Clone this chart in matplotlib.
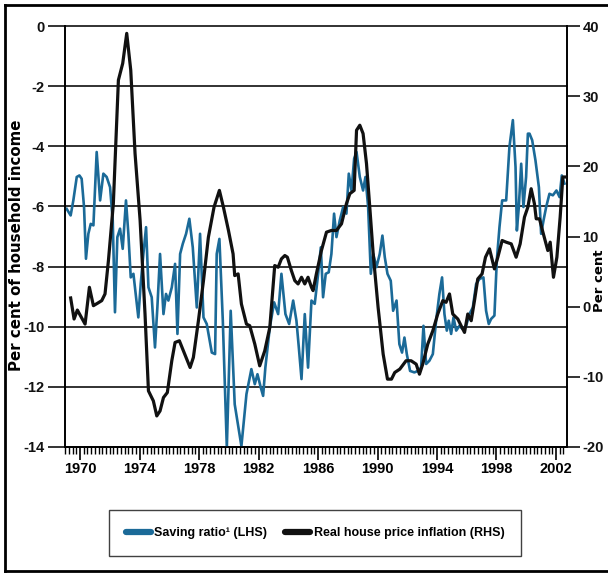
import matplotlib
matplotlib.use("Agg")
import matplotlib.pyplot as plt
from matplotlib.ticker import MultipleLocator, FixedLocator
from matplotlib.lines import Line2D

plt.rcParams['font.family'] = ['Liberation Sans Narrow', 'Liberation Sans', 'DejaVu Sans']

# Saving ratio (LHS, per cent of household income)
saving_years = [1969.10, 1969.37, 1969.55, 1969.78, 1969.96, 1970.11, 1970.27, 1970.40, 1970.56, 1970.72,
                1970.90, 1971.12, 1971.35, 1971.57, 1971.79, 1972.02, 1972.20, 1972.35, 1972.51, 1972.69,
                1972.87, 1973.09, 1973.25, 1973.41, 1973.59, 1973.77, 1973.92, 1974.08, 1974.26, 1974.44,
                1974.60, 1974.82, 1975.04, 1975.20, 1975.38, 1975.61, 1975.78, 1975.94, 1976.17, 1976.39,
                1976.55, 1976.73, 1976.91, 1977.13, 1977.35, 1977.58, 1977.85, 1978.07, 1978.30, 1978.52,
                1978.86, 1979.08, 1979.19, 1979.37, 1979.60, 1979.87, 1980.13, 1980.40, 1980.85, 1981.19,
                1981.52, 1981.75, 1981.93, 1982.15, 1982.31, 1982.46, 1982.76, 1983.05, 1983.32, 1983.54,
                1983.81, 1984.06, 1984.33, 1984.55, 1984.71, 1984.89, 1985.11, 1985.33, 1985.56, 1985.78,
                1986.01, 1986.19, 1986.34, 1986.52, 1986.72, 1986.90, 1987.08, 1987.24, 1987.46, 1987.69,
                1987.91, 1988.07, 1988.25, 1988.43, 1988.59, 1988.81, 1989.03, 1989.19, 1989.37, 1989.55,
                1989.71, 1989.93, 1990.15, 1990.33, 1990.49, 1990.67, 1990.89, 1991.05, 1991.28, 1991.47,
                1991.65, 1991.81, 1991.97, 1992.19, 1992.48, 1992.71, 1992.93, 1993.09, 1993.27, 1993.49,
                1993.72, 1993.94, 1994.16, 1994.34, 1994.50, 1994.66, 1994.79, 1994.95, 1995.11, 1995.29,
                1995.51, 1995.73, 1995.96, 1996.18, 1996.41, 1996.63, 1996.86, 1997.12, 1997.30, 1997.48,
                1997.64, 1997.86, 1998.02, 1998.20, 1998.38, 1998.65, 1998.87, 1999.10, 1999.28, 1999.37,
                1999.50, 1999.66, 1999.81, 1999.99, 2000.11, 2000.22, 2000.40, 2000.62, 2000.85, 2001.00,
                2001.16, 2001.34, 2001.56, 2001.79, 2002.03, 2002.24, 2002.39, 2002.57]
saving_ratio = [-6.08, -6.30, -5.80, -5.02, -4.97, -5.08, -6.02, -7.74, -6.91, -6.58,
                -6.63, -4.19, -5.80, -4.91, -5.02, -5.36, -6.47, -9.52, -7.02, -6.74,
                -7.41, -5.80, -6.91, -8.36, -8.24, -9.02, -9.69, -8.58, -7.58, -6.69,
                -8.69, -9.02, -10.69, -9.36, -7.58, -9.58, -8.91, -9.13, -8.69, -7.91,
                -10.24, -7.58, -7.24, -6.91, -6.41, -7.36, -9.36, -6.91, -9.69, -9.91,
                -10.86, -10.91, -7.58, -7.08, -9.80, -14.02, -9.47, -12.58, -13.97, -12.24,
                -11.41, -11.91, -11.58, -12.02, -12.30, -11.36, -10.02, -9.19, -9.58, -8.24,
                -9.58, -9.91, -9.13, -9.80, -10.69, -11.74, -9.58, -11.36, -9.13, -9.24,
                -8.24, -7.36, -9.02, -8.24, -8.19, -7.58, -6.24, -7.02, -6.47, -6.02,
                -6.24, -4.91, -5.47, -4.41, -4.19, -5.02, -5.47, -5.02, -6.02, -8.24,
                -7.58, -8.02, -7.58, -6.97, -7.69, -8.24, -8.47, -9.47, -9.13, -10.58,
                -10.86, -10.36, -10.91, -11.47, -11.52, -11.47, -11.36, -9.97, -11.24, -11.13,
                -10.91, -9.80, -8.91, -8.36, -9.58, -10.13, -9.80, -10.24, -9.69, -10.13,
                -9.97, -10.08, -9.97, -9.58, -9.36, -8.58, -8.41, -8.36, -9.47, -9.91,
                -9.74, -9.63, -7.80, -6.69, -5.80, -5.80, -4.02, -3.13, -4.69, -6.80,
                -6.02, -4.58, -6.02, -5.02, -3.58, -3.58, -3.80, -4.47, -5.36, -6.91,
                -6.47, -6.02, -5.58, -5.63, -5.47, -5.69, -4.97, -5.24]

# Real house price inflation (RHS, per cent)
house_years = [1969.37, 1969.60, 1969.82, 1970.34, 1970.63, 1970.90, 1971.17, 1971.46, 1971.68, 1971.91,
               1972.24, 1972.58, 1972.87, 1973.14, 1973.41, 1973.70, 1974.04, 1974.37, 1974.60, 1974.93,
               1975.16, 1975.38, 1975.61, 1975.87, 1976.17, 1976.39, 1976.68, 1976.95, 1977.40, 1977.62,
               1977.96, 1978.30, 1978.63, 1979.01, 1979.37, 1979.64, 1979.98, 1980.29, 1980.40, 1980.63,
               1980.85, 1981.19, 1981.41, 1981.75, 1982.08, 1982.42, 1982.76, 1983.09, 1983.32, 1983.54,
               1983.77, 1983.94, 1984.21, 1984.44, 1984.66, 1984.89, 1985.11, 1985.33, 1985.56, 1985.67,
               1985.89, 1986.23, 1986.57, 1986.90, 1987.24, 1987.58, 1987.91, 1988.14, 1988.43, 1988.59,
               1988.81, 1989.03, 1989.26, 1989.48, 1989.71, 1990.04, 1990.38, 1990.67, 1990.94, 1991.16,
               1991.50, 1991.92, 1992.26, 1992.60, 1992.82, 1993.04, 1993.38, 1993.72, 1994.05, 1994.39,
               1994.61, 1994.84, 1995.06, 1995.40, 1995.62, 1995.85, 1996.07, 1996.30, 1996.52, 1996.74,
               1997.03, 1997.26, 1997.53, 1997.86, 1998.09, 1998.38, 1998.65, 1998.99, 1999.32, 1999.59,
               1999.88, 2000.11, 2000.33, 2000.55, 2000.67, 2000.89, 2001.12, 2001.45, 2001.61, 2001.83,
               2002.06, 2002.28, 2002.46, 2002.62]
house_inflation = [1.24, -1.76, -0.48, -2.48, 2.76, 0.14, 0.48, 0.86, 1.81, 6.57,
                   14.67, 32.29, 34.67, 38.95, 33.71, 21.81, 12.29, -1.05, -12.0, -13.43,
                   -15.57, -14.86, -12.95, -12.24, -7.71, -5.10, -4.86, -6.29, -8.67, -7.24,
                   -2.0, 3.71, 9.90, 14.19, 16.57, 14.19, 10.86, 7.52, 4.43, 4.67,
                   0.38, -2.48, -2.71, -5.33, -8.43, -6.29, -2.95, 5.86, 5.62, 6.81,
                   7.29, 7.05, 5.14, 3.71, 3.24, 4.19, 3.24, 4.19, 2.76, 2.29,
                   4.67, 8.0, 10.62, 10.86, 10.86, 11.81, 14.67, 16.10, 16.57, 25.14,
                   25.86, 24.67, 20.38, 14.19, 7.52, -0.10, -6.76, -10.33, -10.33, -9.38,
                   -8.90, -7.71, -7.71, -8.19, -9.62, -8.19, -5.33, -3.43, -1.05, 0.86,
                   0.62, 1.81, -1.05, -1.76, -2.71, -3.67, -1.05, -2.0, 0.86, 3.95,
                   4.67, 7.05, 8.24, 5.38, 7.05, 9.43, 9.19, 8.95, 7.05, 8.95,
                   12.76, 14.19, 16.81, 14.67, 12.52, 12.52, 10.62, 8.0, 9.19, 4.19,
                   7.05, 12.76, 18.48, 18.48]

left_ticks = [0, -2, -4, -6, -8, -10, -12, -14]
right_ticks = [40, 30, 20, 10, 0, -10, -20]
year_ticks = [1970, 1974, 1978, 1982, 1986, 1990, 1994, 1998, 2002]

blue = '#1b6a98'
W, H = 608, 577
fig = plt.figure(figsize=(W / 100, H / 100), dpi=100)
ax = fig.add_axes([65 / W, 1 - 447 / H, (567 - 65) / W, (447 - 26) / H])
ax2 = ax.twinx()

ax.set_xlim(1968.99, 2002.74)
ax.set_ylim(-14, 0)
ax2.set_ylim(-20, 40)

ax.plot(saving_years, saving_ratio, color=blue, lw=1.9, solid_joinstyle='round', zorder=3)
ax2.plot(house_years, house_inflation, color='#111111', lw=2.3, solid_joinstyle='round', zorder=4)

# gridlines at left ticks
for v in left_ticks:
    ax.axhline(v, color='#222222', lw=1.3, zorder=1, clip_on=False)

for a in (ax, ax2):
    a.spines['top'].set_visible(False)
    a.spines['left'].set_linewidth(1.2)
    a.spines['right'].set_linewidth(1.2)
    a.spines['bottom'].set_linewidth(1.2)

tick_font = dict(fontsize=10.5, fontweight='bold')
ax.set_yticks(left_ticks)
ax.set_yticklabels([str(v) for v in left_ticks], **tick_font)
ax.tick_params(axis='y', direction='out', length=12, width=1.2, pad=3, colors='#111111')
ax2.set_yticks(right_ticks)
ax2.set_yticklabels([str(v) for v in right_ticks], **tick_font)
ax2.tick_params(axis='y', direction='out', length=9, width=1.2, pad=2, colors='#111111')

ax.xaxis.set_major_locator(FixedLocator(year_ticks))
ax.xaxis.set_minor_locator(MultipleLocator(0.25))
ax.set_xticklabels([str(v) for v in year_ticks], **tick_font)
ax.tick_params(axis='x', which='major', direction='out', length=9, width=1.2, pad=2)
ax.tick_params(axis='x', which='minor', direction='out', length=5, width=1.0)

ax.set_ylabel('Per cent of household income', fontsize=10.8, fontweight='bold',
              family=['DejaVu Sans'])
ax.yaxis.set_label_coords((24 - 65) / 502, (447 - 245) / 421)
ax2.set_ylabel('Per cent', fontsize=9.5, fontweight='bold', rotation=90,
               family=['DejaVu Sans'])
ax2.yaxis.set_label_coords((593 - 65) / 502, (447 - 281) / 421)

# legend box
handles = [Line2D([], [], color=blue, lw=4.5, solid_capstyle='round'),
           Line2D([], [], color='#111111', lw=4.5, solid_capstyle='round')]
leg = fig.legend(handles, ['Saving ratio\u00b9 (LHS)', 'Real house price inflation (RHS)'],
                 loc='center', bbox_to_anchor=(315 / W, 1 - 533 / H), ncol=2,
                 frameon=True, fancybox=False, edgecolor='#111111',
                 handlelength=2.0, handletextpad=0.3, columnspacing=1.4,
                 borderpad=1.35, prop={'weight': 'bold', 'size': 9})
leg.get_frame().set_linewidth(1.0)

# outer border
fig.add_artist(Line2D([5 / W, 5 / W], [1 - 5 / H, 1 - 571 / H], color='black', lw=2, transform=fig.transFigure))
fig.add_artist(Line2D([5 / W, 1.0], [1 - 5 / H, 1 - 5 / H], color='black', lw=2, transform=fig.transFigure))
fig.add_artist(Line2D([5 / W, 1.0], [1 - 571 / H, 1 - 571 / H], color='black', lw=2, transform=fig.transFigure))

fig.savefig('out.png', dpi=100)
